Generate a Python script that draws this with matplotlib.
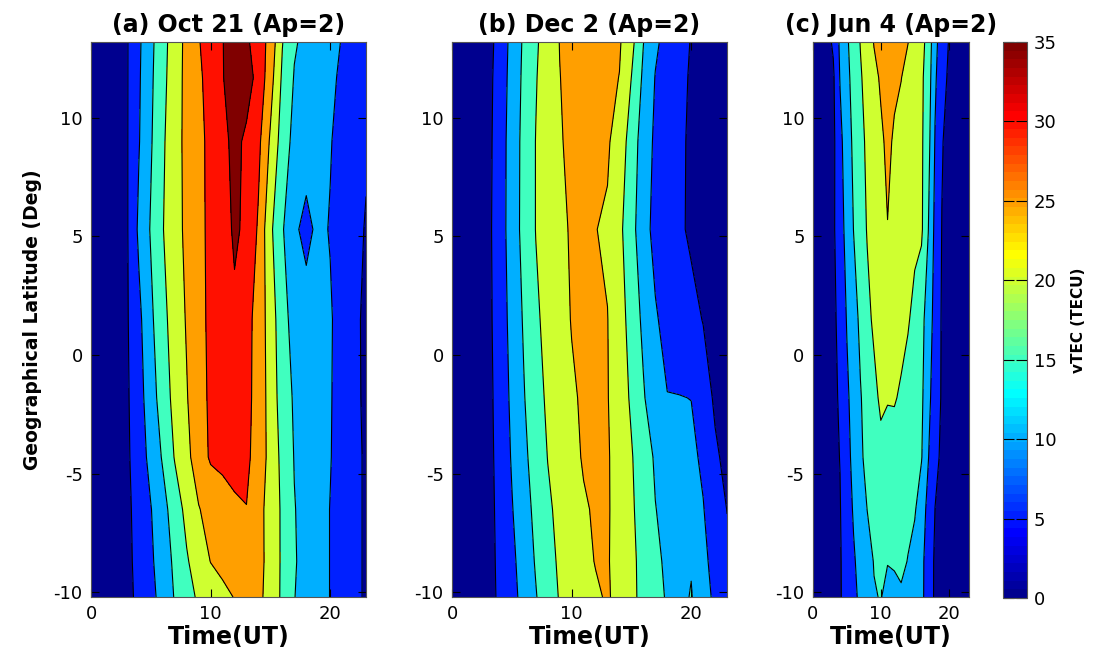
import numpy as np
import matplotlib
matplotlib.use('Agg')
import matplotlib.pyplot as plt
from matplotlib.colors import ListedColormap, Normalize
from matplotlib.cm import ScalarMappable

plt.rcParams['axes.unicode_minus'] = False

# Сетка: время (UT, ч) и широта (град)
ut = list(range(24))
lat = [-10.2, -8.7, -6.5, -4.3, -1.8, 1.5, 5.3, 9.0, 11.7, 13.2]

# vTEC (TECU), строки - широты снизу вверх, столбцы - часы 0..23
tec_oct21 = [
    [2, 2, 2.5, 3.9, 5.9, 8.6, 11.8, 15.3, 18.3, 20.7, 22.2, 23.6, 25.2, 25.8, 25.6, 24.0, 18.9, 15.1, 13.5, 11.7, 9.9, 8.0, 6.0, 4.5],
    [2, 2, 2.5, 4.0, 6.2, 9.2, 12.5, 15.9, 19.5, 22.4, 25.1, 26.5, 27.2, 27.3, 26.5, 23.3, 19.2, 15.4, 13.4, 11.7, 9.9, 8.0, 6.0, 4.5],
    [2, 2, 2.5, 4.1, 6.5, 9.8, 13.3, 17.4, 21.4, 24.7, 27.0, 28.5, 29.5, 29.9, 26.5, 23.2, 19.2, 15.2, 13.4, 11.7, 9.9, 8.0, 6.0, 4.5],
    [2, 2, 2.5, 4.2, 7.4, 11.5, 15.5, 20.3, 23.5, 28.0, 30.5, 30.8, 31.0, 31.0, 27.9, 23.4, 18.6, 14.8, 13.3, 11.7, 10.2, 8.1, 6.0, 4.5],
    [2, 2, 2.5, 4.3, 8.1, 12.7, 17.4, 21.5, 24.7, 28.2, 30.8, 31.8, 32.3, 31.2, 28.4, 22.9, 17.7, 14.4, 13.1, 11.7, 10.3, 8.2, 5.9, 4.3],
    [2, 2, 2.5, 4.5, 8.8, 14.0, 18.6, 22.2, 25.4, 28.5, 31.0, 33.0, 34.5, 31.5, 28.3, 22.5, 17.0, 13.0, 11.5, 11.5, 10.4, 8.3, 5.9, 4.2],
    [2, 2, 2.5, 4.5, 10.9, 15.4, 19.8, 23.1, 26.05, 28.7, 31.1, 33.8, 35.4, 34.5, 29.3, 21.0, 15.5, 10.6, 9.0, 10.8, 9.8, 8.3, 6.3, 4.7],
    [2, 2, 2.5, 4.6, 9.7, 14.5, 19.3, 23.1, 26.25, 28.75, 31.2, 33.6, 36.3, 34.1, 31.2, 24.3, 17.7, 13.5, 11.6, 11.0, 10.2, 8.8, 7.1, 5.5],
    [2, 2, 2.5, 4.6, 9.4, 14.1, 18.6, 22.8, 26.3, 29.1, 31.9, 34.7, 38.0, 37.0, 33.5, 27.0, 19.2, 14.7, 13.4, 12.1, 10.8, 9.3, 7.7, 6.0],
    [2, 2, 2.5, 4.6, 9.2, 13.8, 18.3, 22.5, 26.3, 29.7, 32.3, 34.8, 38.0, 35.8, 32.7, 28.3, 20.2, 15.5, 13.8, 12.5, 11.2, 9.8, 7.9, 6.0],
]

tec_dec2 = [
    [2, 2, 2.3, 3.4, 5.8, 8.5, 11.5, 14.7, 17.75, 20.3, 21.7, 23.0, 24.3, 25.5, 23.5, 21.0, 18.8, 16.6, 14.5, 13.2, 15.4, 11.0, 9.5, 7.5],
    [2, 2, 2.3, 3.4, 6.0, 8.9, 12.1, 15.4, 18.4, 20.7, 22.2, 23.7, 25.2, 25.3, 23.5, 21.0, 18.6, 16.3, 13.9, 12.5, 14.5, 11.2, 8.3, 6.0],
    [2, 2, 2.3, 3.4, 6.3, 9.7, 13.0, 16.2, 19.2, 21.2, 22.9, 24.5, 25.5, 25.4, 23.4, 20.7, 17.9, 15.1, 13.9, 12.7, 11.5, 10.2, 7.5, 4.9],
    [2, 2, 2.3, 3.5, 6.6, 10.4, 13.9, 17.1, 20.1, 21.9, 23.7, 25.4, 25.7, 25.4, 23.2, 20.4, 17.0, 14.5, 13.3, 12.1, 10.9, 9.3, 5.6, 4.0],
    [2, 2, 2.3, 3.6, 6.9, 11.0, 14.7, 18.1, 20.8, 22.6, 24.4, 25.6, 25.8, 25.2, 22.5, 19.3, 15.5, 11.7, 10.1, 10.1, 9.95, 6.9, 4.4, 3.8],
    [2, 2, 2.3, 3.7, 7.4, 11.6, 15.5, 19.2, 21.4, 23.3, 25.2, 25.8, 25.9, 25.1, 22.0, 18.2, 13.9, 10.4, 8.8, 7.5, 6.1, 4.86, 3.9, 3.0],
    [2, 2, 2.3, 3.8, 7.7, 12.3, 16.5, 20.1, 22.1, 24.1, 25.4, 25.6, 25.1, 24.4, 21.1, 16.9, 11.5, 8.85, 7.2, 5.6, 4.4, 3.4, 2.8, 2.5],
    [2, 2, 2.3, 3.6, 7.6, 12.2, 16.4, 20.1, 22.4, 24.6, 26.0, 26.5, 26.3, 25.6, 22.7, 17.9, 12.5, 9.2, 7.4, 5.6, 4.5, 3.4, 2.8, 2.5],
    [2, 2, 2.3, 3.5, 7.2, 11.8, 16.0, 19.7, 22.4, 24.9, 26.3, 27.0, 27.0, 26.2, 24.9, 19.95, 14.1, 9.8, 7.9, 6.0, 4.6, 3.4, 2.8, 2.5],
    [2, 2, 2.3, 3.2, 6.9, 11.5, 15.7, 19.3, 22.3, 25.1, 26.5, 27.5, 27.5, 26.5, 25.5, 21.5, 15.1, 10.8, 8.4, 6.5, 4.8, 3.5, 2.8, 2.5],
]

tec_jun4 = [
    [2, 2, 2.4, 3.5, 4.6, 6.8, 9.0, 10.9, 12.6, 14.7, 15.2, 13.8, 13.9, 14.6, 14.2, 12.5, 11.0, 7.9, 4.2, 3.4, 2.9, 2.5, 2.3, 2.1],
    [2, 2, 2.4, 3.6, 4.6, 7.1, 9.5, 11.5, 13.3, 15.2, 15.5, 15.15, 15.4, 15.6, 14.9, 13.1, 11.0, 8.1, 4.2, 3.5, 3.0, 2.6, 2.3, 2.1],
    [2, 2, 2.4, 3.8, 4.8, 7.7, 10.5, 12.7, 15.05, 16.0, 16.6, 16.8, 16.6, 16.2, 15.7, 15.5, 12.3, 8.6, 4.95, 3.8, 3.2, 2.7, 2.4, 2.2],
    [2, 2, 2.4, 4.0, 5.1, 8.4, 11.4, 14.1, 16.5, 17.8, 18.7, 18.6, 18.3, 17.8, 17.0, 16.2, 15.3, 10.2, 6.2, 4.2, 3.3, 2.8, 2.4, 2.2],
    [2, 2, 2.5, 3.9, 5.6, 9.1, 12.0, 14.7, 16.8, 18.8, 20.8, 20.2, 20.3, 19.5, 18.3, 17.1, 15.9, 11.5, 7.1, 4.6, 3.5, 2.9, 2.5, 2.2],
    [2, 2, 2.5, 4.0, 6.4, 10.3, 13.1, 16.0, 18.8, 20.8, 22.0, 22.5, 22.0, 21.2, 20.4, 18.8, 16.4, 12.8, 8.1, 4.6, 3.5, 3.0, 2.5, 2.2],
    [2, 2, 2.6, 4.3, 7.7, 11.8, 15.1, 17.7, 20.3, 22.0, 23.5, 24.9, 23.8, 22.8, 21.8, 21.0, 20.8, 15.1, 8.7, 4.9, 3.6, 3.0, 2.5, 2.2],
    [2, 2, 2.6, 4.0, 8.6, 12.8, 15.9, 18.6, 20.9, 22.6, 24.3, 25.8, 24.5, 23.5, 22.6, 21.7, 20.8, 16.6, 9.7, 5.3, 3.7, 3.0, 2.5, 2.2],
    [2, 2, 3.0, 4.3, 10.3, 13.7, 16.7, 19.5, 21.8, 23.9, 25.5, 26.0, 25.7, 25.1, 23.7, 22.3, 20.9, 17.5, 10.7, 6.9, 4.3, 3.2, 2.5, 2.2],
    [2, 2, 3.5, 5.6, 10.9, 14.3, 17.3, 20.2, 22.7, 25.2, 26.0, 26.5, 26.3, 25.5, 25.1, 23.3, 21.5, 18.3, 11.25, 7.8, 4.9, 3.5, 2.5, 2.2],
]

titles = ['(a) Oct 21 (Ap=2)', '(b) Dec 2 (Ap=2)', '(c) Jun 4 (Ap=2)']
levels = [0, 5, 10, 15, 20, 25, 30, 35]
cmax = 35

# Палитра jet(64) как в MATLAB
u = np.concatenate([np.arange(1, 17) / 16, np.ones(15), np.arange(16, 0, -1) / 16])
g = np.arange(len(u)) + 8
r = g + 16
b = g - 16
jet64 = np.zeros((64, 3))
jet64[g[g < 64], 1] = u[g < 64]
jet64[r[r < 64], 0] = u[r < 64]
jet64[b[b >= 0], 2] = u[b >= 0]
cmap = ListedColormap(jet64)

# цвет заливки = цвет нижнего уровня
fill_colors = [jet64[min(int(lv / cmax * 64), 63)] for lv in levels]

fig = plt.figure(figsize=(10.94, 6.49), dpi=100)

# положения осей в долях фигуры
boxes = [
    [0.0832, 0.0801, 0.2514, 0.8552],
    [0.4132, 0.0801, 0.2514, 0.8552],
    [0.7431, 0.0801, 0.1426, 0.8552],
]

for i, data in enumerate([tec_oct21, tec_dec2, tec_jun4]):
    ax = fig.add_axes(boxes[i])
    z = np.array(data)
    ax.contourf(ut, lat, z, levels=levels + [60], colors=fill_colors)
    ax.contour(ut, lat, z, levels=levels[1:], colors='k', linewidths=0.8)

    ax.set_xlim(0, 23)
    ax.set_ylim(-10.2, 13.2)
    ax.set_xticks([0, 10, 20])
    ax.set_yticks([-10, -5, 0, 5, 10])
    ax.tick_params(direction='in', top=True, right=True, length=6, width=0.8,
                   labelsize=13, pad=6)
    for sp in ax.spines.values():
        sp.set_linewidth(0.8)
        sp.set_color('#555555')

    ax.set_title(titles[i], fontsize=17, fontweight='bold', pad=7)
    ax.set_xlabel('Time(UT)', fontsize=17, fontweight='bold', labelpad=1)
    if i == 0:
        ax.set_ylabel('Geographical Latitude (Deg)', fontsize=13.5, fontweight='bold',
                      labelpad=8)

# Цветовая шкала
cax = fig.add_axes([0.9168, 0.0786, 0.0219, 0.8567])
sm = ScalarMappable(norm=Normalize(0, cmax), cmap=cmap)
cb = fig.colorbar(sm, cax=cax, ticks=levels)
cb.outline.set_linewidth(0.8)
cb.outline.set_edgecolor('#555555')
cax.tick_params(direction='in', left=True, right=True, length=8, width=0.8,
                labelsize=13, pad=5)
cb.set_label('vTEC (TECU)', fontsize=11, fontweight='bold', labelpad=10)

fig.savefig('out.png', dpi=100)
